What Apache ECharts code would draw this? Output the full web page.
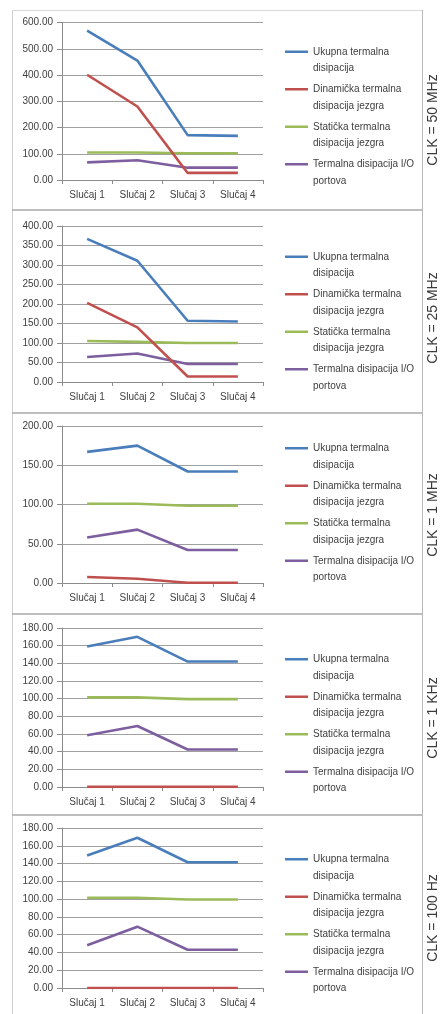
<!DOCTYPE html>
<html>
<head>
<meta charset="utf-8">
<script src="https://cdn.jsdelivr.net/npm/echarts@6/dist/echarts.min.js"></script>
<style>
html,body{margin:0;padding:0;background:#fff;}
#c{width:444px;height:1014px;}
</style>
</head>
<body>
<div id="c"></div>
<script>
// ---- data ----
const categories = ['Slučaj 1', 'Slučaj 2', 'Slučaj 3', 'Slučaj 4'];
const seriesNames = [
  'Ukupna termalna\ndisipacija',
  'Dinamička termalna\ndisipacija jezgra',
  'Statička termalna\ndisipacija jezgra',
  'Termalna disipacija I/O\nportova'
];
const panelLabels = ['CLK = 50 MHz', 'CLK = 25 MHz', 'CLK = 1 MHz', 'CLK = 1 KHz', 'CLK = 100 Hz'];
const yMax = [600, 400, 200, 180, 180];
const yStep = [100, 50, 50, 20, 20];

// 50 MHz
const ukupna50 = [569, 455, 171, 168];
const dinamicka50 = [401, 280, 27, 27];
const staticka50 = [105, 105, 102, 102];
const io50 = [67, 75, 47, 47];
// 25 MHz
const ukupna25 = [367, 311, 157, 155];
const dinamicka25 = [203, 140, 14, 14];
const staticka25 = [105, 103, 100, 100];
const io25 = [64, 73, 46, 46];
// 1 MHz
const ukupna1M = [167, 175, 142, 142];
const dinamicka1M = [7.6, 5.5, 0.3, 0.3];
const staticka1M = [101, 101, 98.5, 98.5];
const io1M = [58, 68, 42, 42];
// 1 KHz
const ukupna1K = [159, 170, 142, 142];
const dinamicka1K = [0.1, 0.1, 0.1, 0.1];
const staticka1K = [101.5, 101.5, 99.5, 99.5];
const io1K = [58.5, 69, 42.5, 42.5];
// 100 Hz
const ukupna100 = [149, 169, 141.5, 141.5];
const dinamicka100 = [0.05, 0.05, 0.05, 0.05];
const staticka100 = [101.5, 101.5, 99.5, 99.5];
const io100 = [48, 69, 43, 43];

const panelData = [
  [ukupna50, dinamicka50, staticka50, io50],
  [ukupna25, dinamicka25, staticka25, io25],
  [ukupna1M, dinamicka1M, staticka1M, io1M],
  [ukupna1K, dinamicka1K, staticka1K, io1K],
  [ukupna100, dinamicka100, staticka100, io100]
];

// ---- layout / style ----
const colors = ['#4A7EBB', '#C0504D', '#9BBB59', '#7D5FA0'];
const gridTops = [22.5, 226, 426, 628, 828];
const gridBottoms = [180, 382, 583, 787, 988];
const legendTops = [38.5, 243.5, 435, 646, 846];
const labelCenters = [120, 318, 515, 718, 918];
const separators = [210, 413, 614, 815];
const FONT = '"Liberation Sans", Arial, sans-serif';
const TXT = '#404040';

const chart = echarts.init(document.getElementById('c'), null, {renderer: 'canvas'});

const grid = [], xAxis = [], yAxis = [], series = [], legend = [];
const iconPath = 'path://M0,0L0.001,0M0,7L23,7L23,9.6L0,9.6ZM0,33L0.001,33';

for (let p = 0; p < 5; p++) {
  grid.push({left: 62, width: 201, top: gridTops[p], height: gridBottoms[p] - gridTops[p]});
  xAxis.push({
    type: 'category', gridIndex: p, data: categories, boundaryGap: true,
    axisLine: {show: true, lineStyle: {color: '#8c8c8c', width: 1}},
    axisTick: {show: true, interval: 0, length: 4, lineStyle: {color: '#8c8c8c'}},
    axisLabel: {color: TXT, fontSize: 10, fontFamily: FONT, margin: 10, interval: 0}
  });
  yAxis.push({
    type: 'value', gridIndex: p, min: 0, max: yMax[p], interval: yStep[p],
    axisLine: {show: true, lineStyle: {color: '#8c8c8c', width: 1}},
    axisTick: {show: true, length: 5, lineStyle: {color: '#8c8c8c'}},
    axisLabel: {color: TXT, fontSize: 10, fontFamily: FONT, margin: 9,
      formatter: v => v.toFixed(2)},
    splitLine: {show: true, lineStyle: {color: '#a0a0a0', width: 1}}
  });
  for (let s = 0; s < 4; s++) {
    series.push({
      type: 'line', name: seriesNames[s], xAxisIndex: p, yAxisIndex: p,
      data: panelData[p][s], symbol: 'none', smooth: false,
      color: colors[s],
      lineStyle: {color: colors[s], width: 2.6},
      z: 10 - s
    });
  }
  legend.push({
    orient: 'vertical', left: 280, top: legendTops[p],
    data: seriesNames.map(n => ({name: n, icon: iconPath})),
    itemWidth: 23, itemHeight: 33, itemGap: 4.5,
    itemStyle: {borderWidth: 0},
    selectedMode: false,
    textStyle: {color: TXT, fontSize: 10, fontFamily: FONT, lineHeight: 16.5}
  });
}

const graphic = [];
// frame
graphic.push({type: 'line', shape: {x1: 12.5, y1: 10, x2: 12.5, y2: 1014}, style: {stroke: '#d0d0d0', lineWidth: 1}});
graphic.push({type: 'line', shape: {x1: 12, y1: 10.5, x2: 422, y2: 10.5}, style: {stroke: '#d8d8d8', lineWidth: 1}});
graphic.push({type: 'line', shape: {x1: 422.5, y1: 10, x2: 422.5, y2: 1014}, style: {stroke: '#b8b8b8', lineWidth: 1}});
separators.forEach(y => {
  graphic.push({type: 'line', shape: {x1: 12, y1: y, x2: 422, y2: y}, style: {stroke: '#a8a8a8', lineWidth: 1.5}});
});
panelLabels.forEach((t, i) => {
  graphic.push({
    type: 'text', x: 433, y: labelCenters[i], rotation: Math.PI / 2,
    style: {text: t, fontSize: 14, fontFamily: FONT, fill: '#3a3a3a', align: 'center', verticalAlign: 'middle'}
  });
});

chart.setOption({
  animation: false,
  backgroundColor: '#ffffff',
  grid, xAxis, yAxis, series, legend, graphic
});
</script>
</body>
</html>
